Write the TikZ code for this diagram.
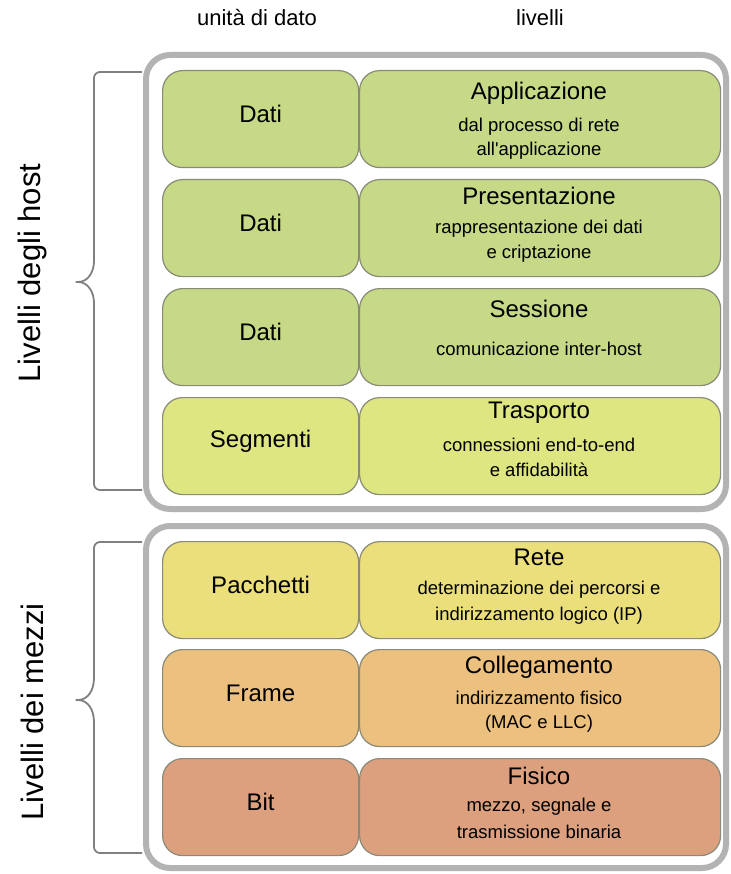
\documentclass[tikz,border=0pt]{standalone}
\usepackage{fontspec}
\setmainfont{Liberation Sans}
\newfontfamily\rawfont{Liberation Sans}
\definecolor{cgreen}{HTML}{C5D986}
\definecolor{cseg}{HTML}{DEE682}
\definecolor{cpac}{HTML}{EBDF7C}
\definecolor{cframe}{HTML}{ECC07E}
\definecolor{cbit}{HTML}{DCA07F}
\definecolor{boxline}{HTML}{8A8A78}
\definecolor{framegray}{HTML}{B3B3B3}
\definecolor{bracegray}{HTML}{808080}
\begin{document}
\begin{tikzpicture}[x=1pt,y=-1pt,
  lay/.style={draw=boxline, line width=1.2pt, rounded corners=20pt, anchor=north west, inner sep=0pt},
  lbox/.style={lay, minimum width=196pt, minimum height=97pt},
  rbox/.style={lay, minimum width=361pt, minimum height=97pt},
  ttl/.style={font=\fontsize{24}{28}\selectfont, inner sep=0pt},
  sub/.style={font=\fontsize{18.5}{22}\selectfont, inner sep=0pt},
  hdr/.style={font=\fontsize{22}{26}\selectfont, inner sep=0pt},
  side/.style={font=\fontsize{31}{36}\selectfont, inner sep=0pt, rotate=90},
  outerframe/.style={draw=framegray, line width=6pt, rounded corners=24pt},
  bracepath/.style={draw=bracegray, line width=1.8pt, rounded corners=6pt}]
\useasboundingbox (0,0) rectangle (730,874);

% headers
\node[hdr] (h1) at (257,18) {unità di dato};
\node[hdr] (h2) at (540,18) {livelli};

% outer frames
\draw[outerframe] (146,55) rectangle (726,509);
\draw[outerframe] (146,526) rectangle (726,868);

% braces
\draw[bracepath] (142,72) -- (94,72) -- (94,255)
  .. controls (94,272) and (88,282) .. (72,282)
  .. controls (88,282) and (94,292) .. (94,309) -- (94,490) -- (142,490);
\draw[bracepath] (142,542) -- (94,542) -- (94,672)
  .. controls (94,690) and (88,700) .. (72,700)
  .. controls (88,700) and (94,710) .. (94,728) -- (94,853) -- (142,853);

\node[side] (s1) at (32,273) {Livelli degli host};
\node[side] (s2) at (32,712) {Livelli dei mezzi};

% row 1
\node[lbox, fill=cgreen] (l1) at (162,70) {};
\node[rbox, fill=cgreen] (r1) at (359,70) {};
\node[ttl] (l1t) at ([yshift=5pt]l1.center) {Dati};
\node[ttl] (r1t) at (539,93) {Applicazione};
\node[sub] (r1a) at (539,127) {dal processo di rete};
\node[sub] (r1b) at (539,151) {{\rawfont all'applicazione}};

% row 2
\node[lbox, fill=cgreen] (l2) at (162,179) {};
\node[rbox, fill=cgreen] (r2) at (359,179) {};
\node[ttl] (l2t) at ([yshift=5pt]l2.center) {Dati};
\node[ttl] (r2t) at (539,196) {Presentazione};
\node[sub] (r2a) at (539,229) {rappresentazione dei dati};
\node[sub] (r2b) at (539,254) {e criptazione};

% row 3
\node[lbox, fill=cgreen] (l3) at (162,288) {};
\node[rbox, fill=cgreen] (r3) at (359,288) {};
\node[ttl] (l3t) at ([yshift=5pt]l3.center) {Dati};
\node[ttl] (r3t) at (539,309) {Sessione};
\node[sub] (r3a) at (539,349) {comunicazione inter-host};

% row 4
\node[lbox, fill=cseg] (l4) at (162,397) {};
\node[rbox, fill=cseg] (r4) at (359,397) {};
\node[ttl] (l4t) at ([yshift=5pt]l4.center) {Segmenti};
\node[ttl] (r4t) at (539,413) {Trasporto};
\node[sub] (r4a) at (539,445) {connessioni end-to-end};
\node[sub] (r4b) at (539,470) {e affidabilità};

% row 5
\node[lbox, fill=cpac] (l5) at (162,541) {};
\node[rbox, fill=cpac] (r5) at (359,541) {};
\node[ttl] (l5t) at ([yshift=5pt]l5.center) {Pacchetti};
\node[ttl] (r5t) at (539,557) {Rete};
\node[sub] (r5a) at (539,590) {determinazione dei percorsi e};
\node[sub] (r5b) at (539,616) {indirizzamento logico (IP)};

% row 6
\node[lbox, fill=cframe] (l6) at (162,649) {};
\node[rbox, fill=cframe] (r6) at (359,649) {};
\node[ttl] (l6t) at ([yshift=5pt]l6.center) {Frame};
\node[ttl] (r6t) at (539,667) {Collegamento};
\node[sub] (r6a) at (539,698) {indirizzamento fisico};
\node[sub] (r6b) at (539,724) {(MAC e LLC)};

% row 7
\node[lbox, fill=cbit] (l7) at (162,758) {};
\node[rbox, fill=cbit] (r7) at (359,758) {};
\node[ttl] (l7t) at ([yshift=5pt]l7.center) {Bit};
\node[ttl] (r7t) at (539,776) {Fisico};
\node[sub] (r7a) at (539,807) {mezzo, segnale e};
\node[sub] (r7b) at (539,832) {trasmissione binaria};
\end{tikzpicture}
\end{document}
